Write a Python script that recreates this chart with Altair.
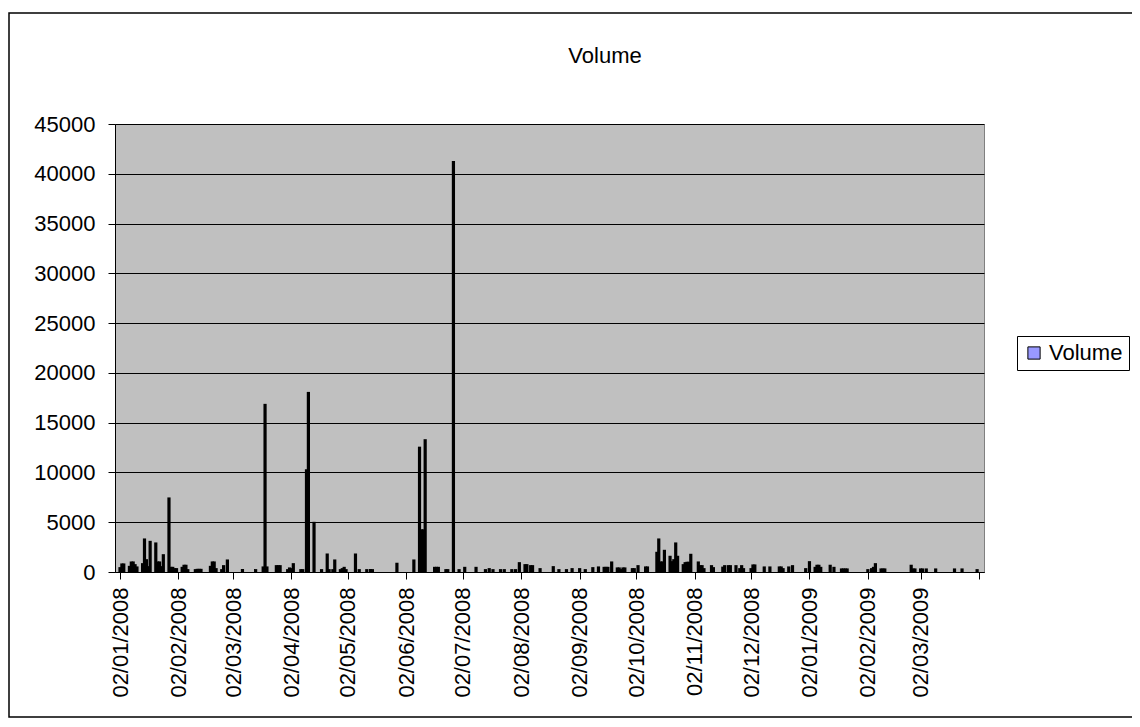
import altair as alt
import pandas as pd

# ---- data (trading day, volume) ----
trade_dates = [
    # Jan 2008
    "2008-01-02", "2008-01-03", "2008-01-04", "2008-01-07", "2008-01-08", "2008-01-09",
    "2008-01-10", "2008-01-11", "2008-01-14", "2008-01-15", "2008-01-16", "2008-01-17",
    "2008-01-18", "2008-01-21", "2008-01-22", "2008-01-23", "2008-01-24", "2008-01-25",
    "2008-01-28", "2008-01-29", "2008-01-30", "2008-01-31",
    # Feb 2008
    "2008-02-01", "2008-02-04", "2008-02-05", "2008-02-06", "2008-02-07", "2008-02-11",
    "2008-02-12", "2008-02-13", "2008-02-14", "2008-02-19", "2008-02-20", "2008-02-21",
    "2008-02-22", "2008-02-25", "2008-02-26", "2008-02-28",
    # Mar 2008
    "2008-03-07", "2008-03-14", "2008-03-18", "2008-03-19", "2008-03-20", "2008-03-25",
    "2008-03-26", "2008-03-27", "2008-03-31",
    # Apr 2008
    "2008-04-01", "2008-04-02", "2008-04-03", "2008-04-07", "2008-04-08", "2008-04-10",
    "2008-04-11", "2008-04-14", "2008-04-18", "2008-04-21", "2008-04-22", "2008-04-24",
    "2008-04-25", "2008-04-28", "2008-04-29", "2008-04-30",
    # May 2008
    "2008-05-01", "2008-05-06", "2008-05-08", "2008-05-12", "2008-05-14", "2008-05-15",
    "2008-05-28",
    # Jun 2008
    "2008-06-06", "2008-06-09", "2008-06-10", "2008-06-11", "2008-06-12", "2008-06-17",
    "2008-06-18", "2008-06-19", "2008-06-23", "2008-06-24", "2008-06-27", "2008-06-30",
    # Jul 2008
    "2008-07-03", "2008-07-09", "2008-07-14", "2008-07-16", "2008-07-18", "2008-07-22",
    "2008-07-24", "2008-07-28", "2008-07-30",
    # Aug 2008
    "2008-08-01", "2008-08-04", "2008-08-05", "2008-08-07", "2008-08-08", "2008-08-12",
    "2008-08-19", "2008-08-22", "2008-08-26", "2008-08-29",
    # Sep 2008
    "2008-09-02", "2008-09-05", "2008-09-09", "2008-09-12", "2008-09-15", "2008-09-16",
    "2008-09-17", "2008-09-19", "2008-09-22", "2008-09-23", "2008-09-24", "2008-09-25",
    "2008-09-26", "2008-09-30",
    # Oct 2008
    "2008-10-01", "2008-10-03", "2008-10-07", "2008-10-08", "2008-10-13", "2008-10-14",
    "2008-10-15", "2008-10-16", "2008-10-17", "2008-10-20", "2008-10-21", "2008-10-22",
    "2008-10-23", "2008-10-24", "2008-10-27", "2008-10-28", "2008-10-29", "2008-10-30",
    "2008-10-31",
    # Nov 2008
    "2008-11-04", "2008-11-05", "2008-11-06", "2008-11-07", "2008-11-11", "2008-11-12",
    "2008-11-17", "2008-11-18", "2008-11-20", "2008-11-21", "2008-11-24", "2008-11-26",
    "2008-11-27", "2008-11-28",
    # Dec 2008
    "2008-12-02", "2008-12-03", "2008-12-04", "2008-12-09", "2008-12-12", "2008-12-17",
    "2008-12-18", "2008-12-19", "2008-12-22", "2008-12-24", "2008-12-31",
    # Jan 2009
    "2009-01-02", "2009-01-05", "2009-01-06", "2009-01-07", "2009-01-08", "2009-01-13",
    "2009-01-15", "2009-01-19", "2009-01-20", "2009-01-21", "2009-01-22",
    # Feb 2009
    "2009-02-02", "2009-02-04", "2009-02-05", "2009-02-06", "2009-02-09", "2009-02-10",
    "2009-02-11", "2009-02-25", "2009-02-26", "2009-02-27",
    # Mar 2009
    "2009-03-02", "2009-03-03", "2009-03-05", "2009-03-10", "2009-03-20", "2009-03-24",
    "2009-04-01",
]

volumes = [
    # Jan 2008
    400, 770, 770, 530, 970, 970,
    700, 470, 800, 3280, 1200, 500,
    3040, 2880, 970, 970, 500, 1700,
    7400, 430, 430, 300,
    # Feb 2008
    300, 430, 640, 640, 200, 200,
    230, 230, 230, 530, 970, 970,
    300, 200, 600, 1170,
    # Mar 2008
    200, 200, 470, 16800, 470, 600,
    600, 600, 200,
    # Apr 2008
    370, 300, 800, 200, 200, 10230,
    18000, 4950, 200, 1770, 200, 200,
    1170, 200, 300, 430,
    # May 2008
    200, 1770, 200, 200, 200, 200,
    840,
    # Jun 2008
    1170, 12500, 4200, 4200, 13250, 430,
    430, 430, 200, 200, 41200, 200,
    # Jul 2008
    430, 430, 200, 300, 200, 200,
    200, 200, 200,
    # Aug 2008
    900, 700, 700, 600, 600, 300,
    500, 200, 200, 300,
    # Sep 2008
    300, 200, 400, 470, 430, 430,
    430, 970, 370, 370, 200, 370,
    370, 300,
    # Oct 2008
    300, 600, 470, 470, 1940, 3280,
    970, 970, 2140, 1540, 1000, 1200,
    2880, 1540, 700, 900, 940, 940,
    1740,
    # Nov 2008
    970, 600, 600, 300, 600, 400,
    450, 600, 600, 600, 600, 300,
    600, 300,
    # Dec 2008
    300, 670, 670, 470, 470, 470,
    470, 300, 470, 600, 300,
    # Jan 2009
    1000, 430, 640, 640, 430, 640,
    430, 270, 270, 270, 270,
    # Feb 2009
    200, 300, 430, 800, 270, 270,
    270, 640, 270, 270,
    # Mar 2009
    270, 270, 270, 270, 270, 270,
    200,
]

tick_dates = [
    "2008-01-02", "2008-02-02", "2008-03-02", "2008-04-02", "2008-05-02",
    "2008-06-02", "2008-07-02", "2008-08-02", "2008-09-02", "2008-10-02",
    "2008-11-02", "2008-12-02", "2009-01-02", "2009-02-02", "2009-03-02",
    "2009-04-02",
]
y_ticks = [0, 5000, 10000, 15000, 20000, 25000, 30000, 35000, 40000, 45000]
series_name = "Volume"
chart_title = "Volume"

df = pd.DataFrame({"date": trade_dates, "volume": volumes, "series": series_name})


def to_ms(s):
    return int(pd.Timestamp(s, tz="UTC").value // 10**6)


tick_ms = [to_ms(d) for d in tick_dates]
last_ms = tick_ms[-1]

FONT = "Liberation Sans"
FS = 22

bars = alt.Chart(df).mark_bar(width=1.4, stroke="black", strokeWidth=1.8).encode(
    x=alt.X(
        "date:T",
        scale=alt.Scale(type="utc", domain=[tick_ms[0], tick_ms[-1]], nice=False),
        axis=alt.Axis(
            values=tick_ms,
            labelExpr=f"datum.value >= {last_ms} ? '' : utcFormat(datum.value, '%d/%m/%Y')",
            labelAngle=270,
            labelFont=FONT,
            labelFontSize=FS,
            labelColor="black",
            labelPadding=8,
            labelOverlap=False,
            labelBound=False,
            labelFlush=False,
            tickSize=7,
            tickColor="black",
            domainColor="black",
            grid=False,
            title=None,
        ),
    ),
    y=alt.Y(
        "volume:Q",
        scale=alt.Scale(domain=[0, 45000], nice=False),
        axis=alt.Axis(
            values=y_ticks,
            format="d",
            labelFont=FONT,
            labelFontSize=FS,
            labelColor="black",
            labelPadding=13,
            tickSize=7,
            tickColor="black",
            domainColor="black",
            grid=True,
            gridColor="black",
            gridWidth=1,
            gridOpacity=1,
            title=None,
        ),
    ),
    color=alt.Color(
        "series:N",
        scale=alt.Scale(range=["#9999FF"]),
        legend=alt.Legend(
            title=None,
            orient="none",
            legendX=902,
            legendY=212,
            symbolType="square",
            symbolSize=150,
            symbolStrokeColor="black",
            symbolStrokeWidth=1,
            symbolOpacity=1,
            labelFont=FONT,
            labelFontSize=FS,
            labelColor="black",
            labelOffset=4,
            padding=6,
            strokeColor="black",
            fillColor="white",
        ),
    ),
)

title_text = alt.Chart(alt.Data(values=[{"t": chart_title}])).mark_text(
    font=FONT, fontSize=FS, color="black", align="center", baseline="middle"
).encode(x=alt.value(490), y=alt.value(-68), text="t:N")

border = alt.Chart(alt.Data(values=[{"a": 1}])).mark_rect(
    fill="transparent", stroke="black", strokeWidth=1.5
).encode(x=alt.value(-106), x2=alt.value(1060), y=alt.value(-111), y2=alt.value(593))

chart = alt.layer(bars, title_text, border).properties(
    width=869,
    height=448,
    autosize=alt.AutoSizeParams(type="none"),
    padding={"left": 107, "top": 116, "right": 148, "bottom": 146},
    background="white",
).configure_view(fill="#C0C0C0", stroke="#808080", strokeWidth=1)

chart.save("out.html", embed_options={"renderer": "svg", "actions": False})
